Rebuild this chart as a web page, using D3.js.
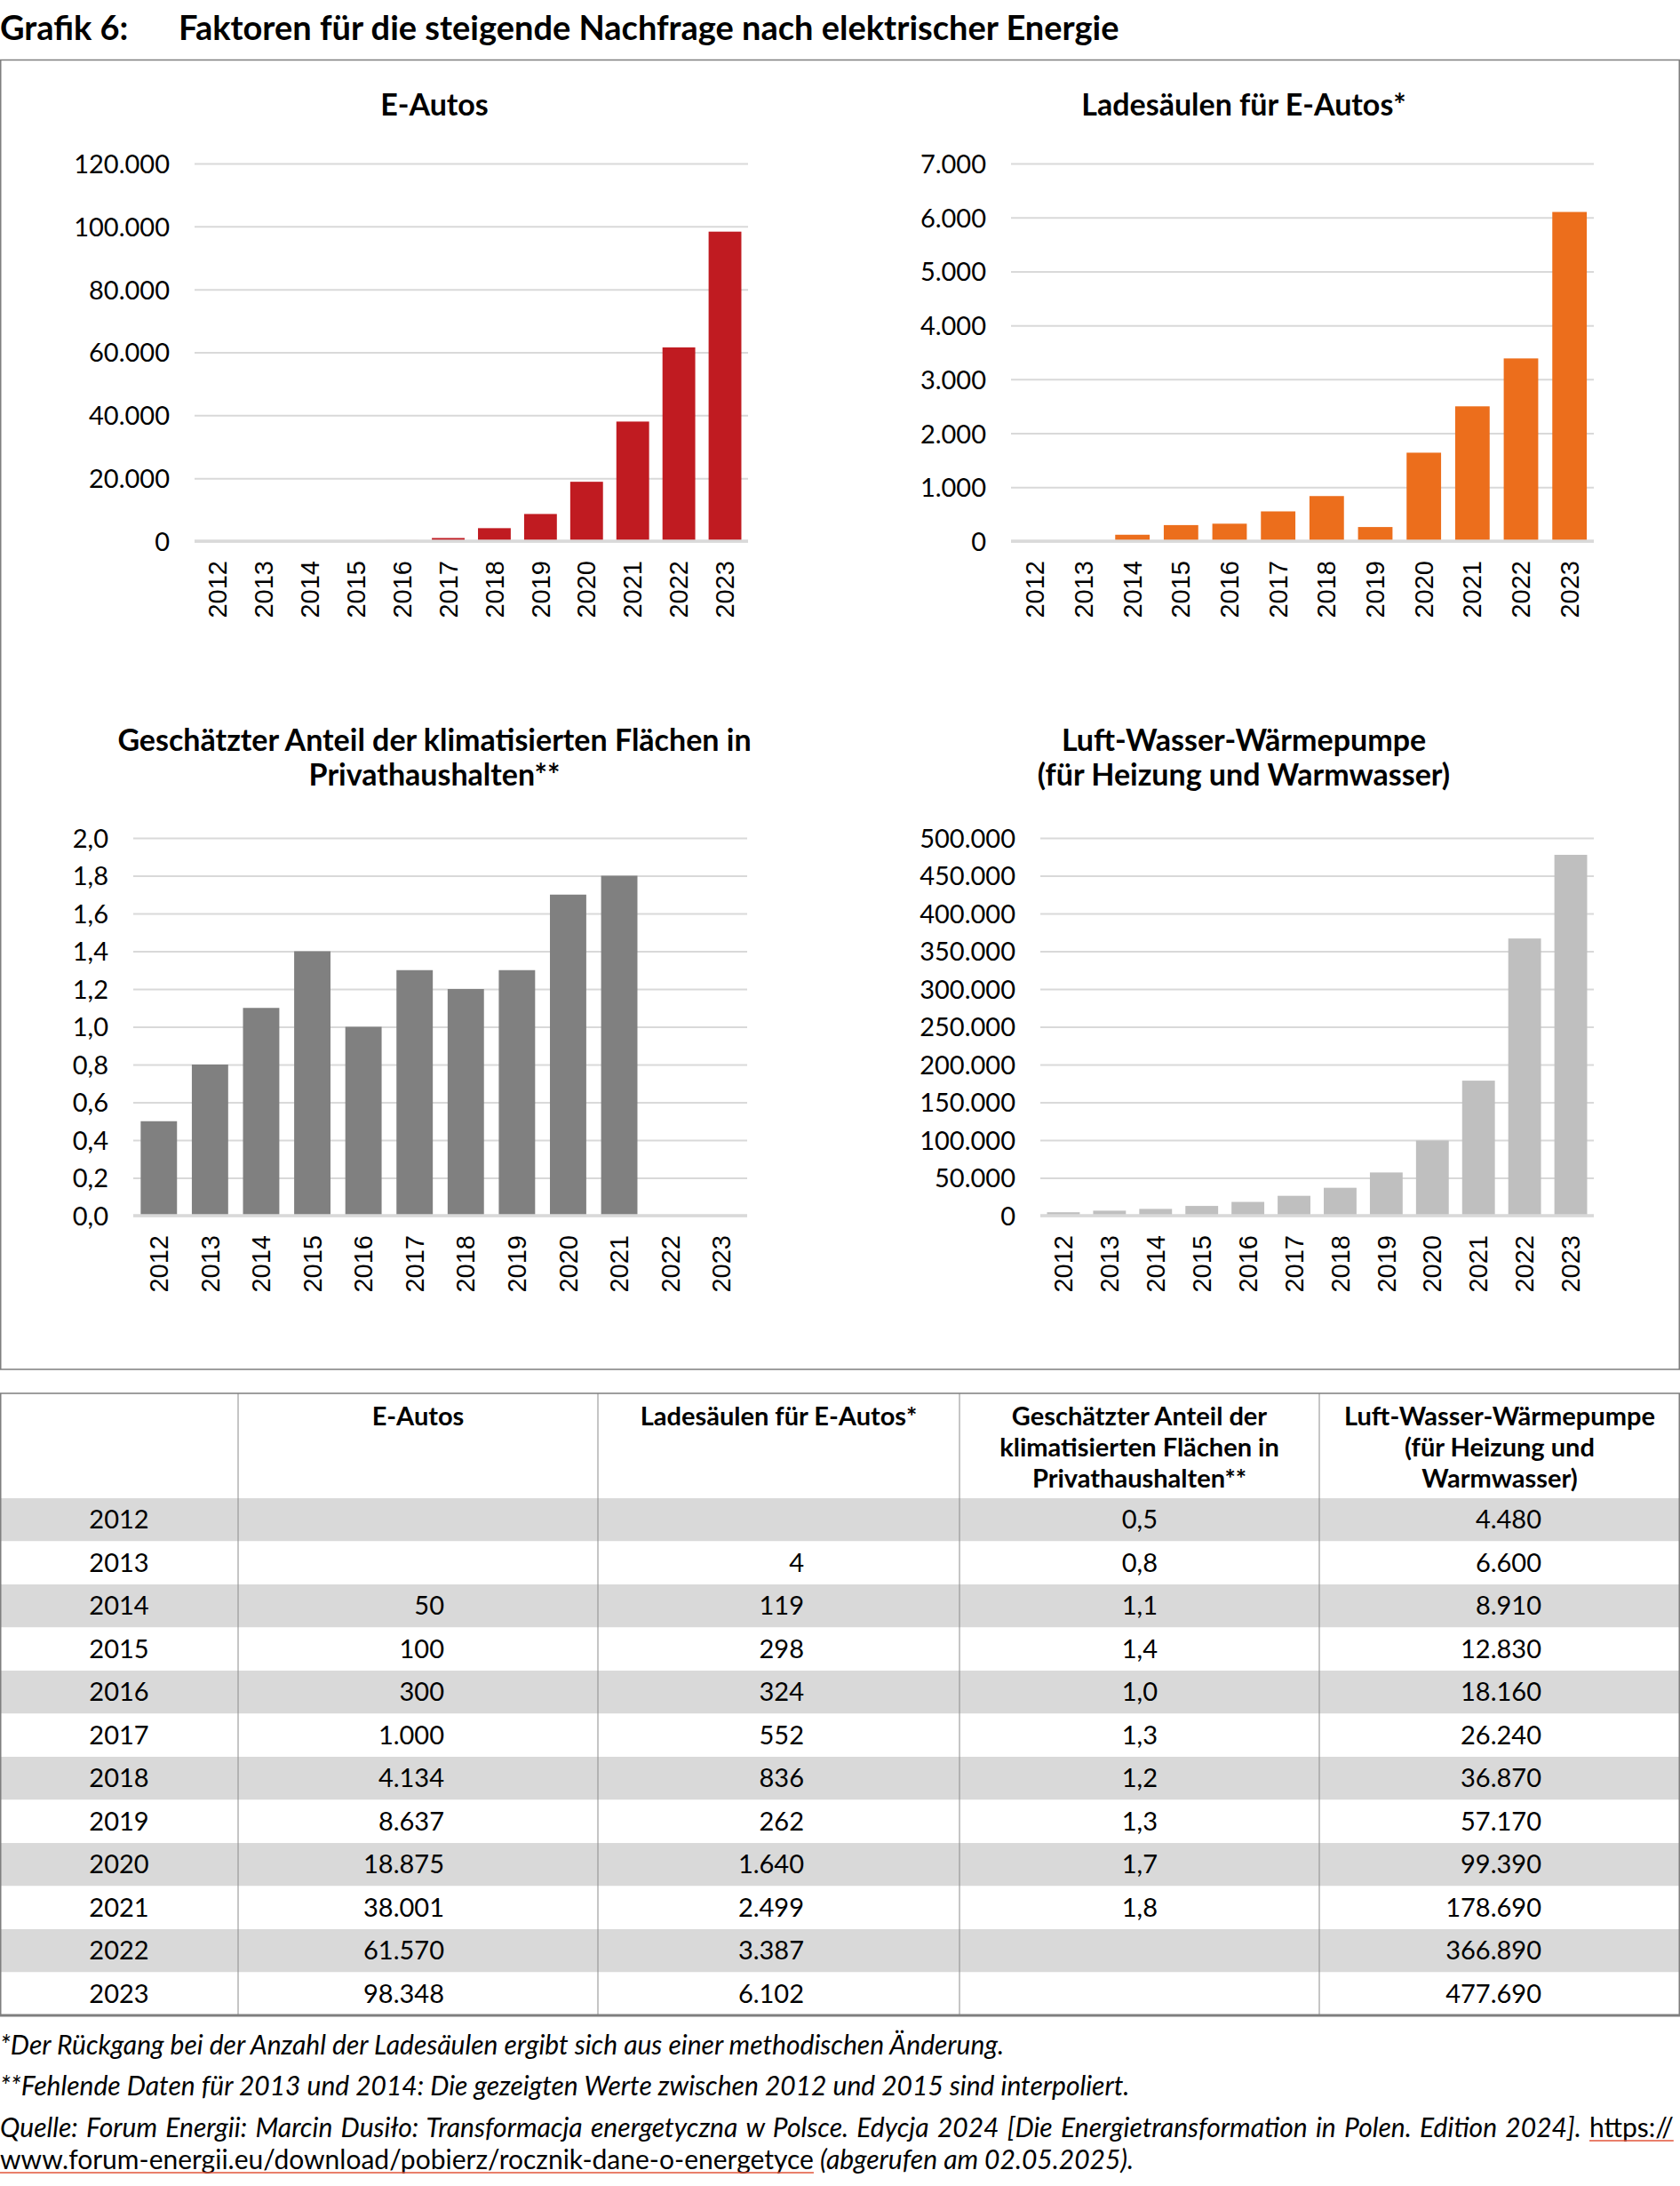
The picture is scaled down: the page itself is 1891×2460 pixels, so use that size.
<!DOCTYPE html>
<html>
<head>
<meta charset="utf-8">
<script src="https://cdn.jsdelivr.net/npm/d3@7"></script>
<style>
  body { margin: 0; background: #fff; }
  svg text { font-family: Lato, "Open Sans", sans-serif; fill: #000; }
</style>
</head>
<body>
<svg id="chart"></svg>
<script>
const years = [2012, 2013, 2014, 2015, 2016, 2017, 2018, 2019, 2020, 2021, 2022, 2023];
const eAutos = [null, null, 50, 100, 300, 1000, 4134, 8637, 18875, 38001, 61570, 98348];
const ladesaeulen = [null, 4, 119, 298, 324, 552, 836, 262, 1640, 2499, 3387, 6102];
const klimaAnteil = [0.5, 0.8, 1.1, 1.4, 1.0, 1.3, 1.2, 1.3, 1.7, 1.8, null, null];
const waermepumpe = [4480, 6600, 8910, 12830, 18160, 26240, 36870, 57170, 99390, 178690, 366890, 477690];

const chartTitles = [
  ["E-Autos"],
  ["Ladesäulen für E-Autos*"],
  ["Geschätzter Anteil der klimatisierten Flächen in", "Privathaushalten**"],
  ["Luft-Wasser-Wärmepumpe", "(für Heizung und Warmwasser)"]
];
const yMax = [120000, 7000, 2, 500000];
const yStep = [20000, 1000, 0.2, 50000];

const tableHeads = [
  ["E-Autos"],
  ["Ladesäulen für E-Autos*"],
  ["Geschätzter Anteil der", "klimatisierten Flächen in", "Privathaushalten**"],
  ["Luft-Wasser-Wärmepumpe", "(für Heizung und", "Warmwasser)"]
];

const W = 1891, H = 2460;
const de = d3.formatLocale({decimal: ",", thousands: ".", grouping: [3], currency: ["", " €"]});
const fmtInt = de.format(",d");
const fmtDec = de.format(",.1f");

const svg = d3.select("#chart").attr("width", W).attr("height", H);
svg.append("rect").attr("width", W).attr("height", H).attr("fill", "#fff");

// heading
svg.append("text").attr("x", 0).attr("y", 45)
  .style("font-size", "38px").style("font-weight", 700).text("Grafik 6:");
svg.append("text").attr("x", 201).attr("y", 45)
  .style("font-size", "38px").style("font-weight", 700)
  .text("Faktoren für die steigende Nachfrage nach elektrischer Energie");

// frame around the four charts
svg.append("rect").attr("x", 0.75).attr("y", 67.5).attr("width", W - 1.5).attr("height", 1473.5)
  .attr("fill", "none").attr("stroke", "#7f7f7f").attr("stroke-width", 1.5);

const series = [eAutos, ladesaeulen, klimaAnteil, waermepumpe];
const colors = ["#c01b21", "#ec6e1c", "#808080", "#bfbfbf"];
const panels = [
  {x0: 219, x1: 842, top: 184, bottom: 609, cx: 489, ty: 130},
  {x0: 1138, x1: 1794, top: 184, bottom: 609, cx: 1400, ty: 130},
  {x0: 150, x1: 841, top: 943, bottom: 1368, cx: 489, ty: 845},
  {x0: 1171, x1: 1794, top: 943, bottom: 1368, cx: 1400, ty: 845}
];

panels.forEach((p, i) => {
  const g = svg.append("g");
  const x = d3.scaleBand().domain(years).range([p.x0, p.x1]).paddingInner(0.29).paddingOuter(0.145);
  const y = d3.scaleLinear().domain([0, yMax[i]]).range([p.bottom, p.top]);
  const ticks = d3.range(0, yMax[i] + yStep[i] / 2, yStep[i]);
  const fmt = i === 2 ? fmtDec : fmtInt;

  g.selectAll("text.title").data(chartTitles[i]).join("text")
    .attr("x", p.cx).attr("y", (d, k) => p.ty + k * 39)
    .attr("text-anchor", "middle")
    .style("font-size", "34px").style("font-weight", 700)
    .text(d => d);

  const yAxis = g.append("g").attr("transform", `translate(${p.x0},0)`)
    .call(d3.axisLeft(y).tickValues(ticks).tickFormat(fmt)
      .tickSizeInner(-(p.x1 - p.x0)).tickSizeOuter(0).tickPadding(28));
  yAxis.select(".domain").remove();
  yAxis.selectAll(".tick line").attr("stroke", "#d9d9d9").attr("stroke-width", 2);
  yAxis.selectAll(".tick text").attr("font-family", null).attr("font-size", null)
    .style("font-size", "29px").attr("dy", "0.36em");

  g.selectAll("rect.bar").data(years.map((yr, k) => ({yr, v: series[i][k]})).filter(d => d.v != null))
    .join("rect")
    .attr("x", d => x(d.yr)).attr("width", x.bandwidth())
    .attr("y", d => y(d.v)).attr("height", d => y(0) - y(d.v))
    .attr("fill", colors[i]);

  const xAxis = g.append("g").attr("transform", `translate(0,${p.bottom})`)
    .call(d3.axisBottom(x).tickSize(0).tickPadding(0));
  xAxis.select(".domain").remove();
  xAxis.append("line").attr("x1", p.x0).attr("x2", p.x1)
    .attr("stroke", "#d9d9d9").attr("stroke-width", 3.5);
  xAxis.selectAll(".tick text")
    .attr("transform", "rotate(-90)").attr("x", -22).attr("y", 0).attr("dy", "0.35em")
    .attr("text-anchor", "end")
    .style("font-family", "'Liberation Sans', Arial, sans-serif").style("font-size", "29px");
});

// table
const cols = [0, 268, 673, 1080, 1485, W];
const tTop = 1568, headBottom = 1686, rowH = 48.5;
const tBottom = headBottom + rowH * years.length;
const tbl = svg.append("g");

tbl.selectAll("rect.row").data(years).join("rect")
  .attr("x", 0).attr("width", W)
  .attr("y", (d, k) => headBottom + k * rowH).attr("height", rowH)
  .attr("fill", (d, k) => k % 2 === 0 ? "#d9d9d9" : "#fff");

tbl.selectAll("line.col").data(cols.slice(1, -1)).join("line")
  .attr("x1", d => d).attr("x2", d => d).attr("y1", tTop).attr("y2", tBottom)
  .attr("stroke", "#8c8c8c").attr("stroke-width", 1);
tbl.append("rect").attr("x", 0.75).attr("y", tTop).attr("width", W - 1.5).attr("height", tBottom - tTop)
  .attr("fill", "none").attr("stroke", "#7f7f7f").attr("stroke-width", 1.5);
tbl.append("line").attr("x1", 0).attr("x2", W).attr("y1", tBottom).attr("y2", tBottom)
  .attr("stroke", "#7f7f7f").attr("stroke-width", 3);

tableHeads.forEach((lines, c) => {
  tbl.selectAll(null).data(lines).join("text")
    .attr("x", (cols[c + 1] + cols[c + 2]) / 2).attr("y", (d, k) => 1604 + k * 35)
    .attr("text-anchor", "middle")
    .style("font-size", "29px").style("font-weight", 700)
    .text(d => d);
});

const valueRight = [500, 905, 1303, 1735];
tbl.selectAll("text.yr").data(years).join("text")
  .attr("x", 134).attr("y", (d, k) => headBottom + k * rowH + rowH / 2 + 10)
  .attr("text-anchor", "middle").style("font-size", "29px").text(d => d);
series.forEach((s, c) => {
  tbl.selectAll(null).data(s).join("text")
    .attr("x", valueRight[c]).attr("y", (d, k) => headBottom + k * rowH + rowH / 2 + 10)
    .attr("text-anchor", "end").style("font-size", "29px")
    .text(d => d == null ? "" : (c === 2 ? fmtDec(d) : fmtInt(d)));
});

// footnotes
const note = svg.append("g").style("font-size", "30px");
note.append("text").attr("x", 0).attr("y", 2312).style("font-style", "italic")
  .text("*Der Rückgang bei der Anzahl der Ladesäulen ergibt sich aus einer methodischen Änderung.");
note.append("text").attr("x", 0).attr("y", 2358).style("font-style", "italic")
  .text("**Fehlende Daten für 2013 und 2014: Die gezeigten Werte zwischen 2012 und 2015 sind interpoliert.");
// source line is justified to the full width in the original
const q = note.append("text").attr("x", 0).attr("y", 2405).style("word-spacing", "2.3px");
q.append("tspan").style("font-style", "italic")
  .text("Quelle: Forum Energii: Marcin Dusiło: Transformacja energetyczna w Polsce. Edycja 2024 [Die Energietransformation in Polen. Edition 2024]. ");
q.append("tspan").attr("class", "link").text("https://");
const q2 = note.append("text").attr("x", 0).attr("y", 2441);
q2.append("tspan").attr("class", "link").text("www.forum-energii.eu/download/pobierz/rocznik-dane-o-energetyce");
q2.append("tspan").style("font-style", "italic").text(" (abgerufen am 02.05.2025).");

// orange underline under the link parts
note.selectAll("tspan.link").each(function () {
  const b = this.getBBox();
  note.append("line").attr("x1", b.x).attr("x2", b.x + b.width)
    .attr("y1", b.y + b.height - 2).attr("y2", b.y + b.height - 2)
    .attr("stroke", "#e2553a").attr("stroke-width", 1.5);
});
</script>
</body>
</html>
